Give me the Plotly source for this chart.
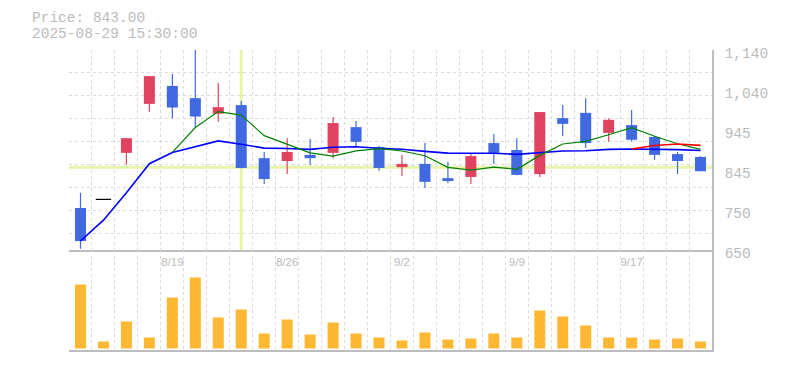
import plotly.graph_objects as go

# ---------------- data ----------------
dates = ["8/13", "8/14", "8/15", "8/18", "8/19", "8/20", "8/21", "8/22", "8/25", "8/26",
         "8/27", "8/28", "8/29", "9/1", "9/2", "9/3", "9/4", "9/5", "9/8", "9/9",
         "9/10", "9/11", "9/12", "9/16", "9/17", "9/18", "9/19", "9/22"]
open_ = [753, 774, 888, 1008, 1052, 1022, 984, 1005, 875, 868, 883, 888, 951, 902,
         853, 861, 826, 829, 912, 895, 836, 973, 986, 937, 956, 927, 885, 878]
high = [790, 774, 924, 1076, 1081, 1140, 1059, 1015, 890, 924, 922, 976, 966, 905,
        883, 912, 866, 885, 934, 924, 988, 1005, 1022, 973, 993, 929, 890, 880]
low = [653, 774, 859, 989, 972, 951, 964, 850, 812, 836, 858, 875, 903, 844,
       831, 802, 814, 812, 861, 833, 829, 929, 900, 915, 915, 871, 836, 843]
close = [672, 774, 924, 1076, 999, 977, 1000, 851, 824, 890, 875, 961, 915, 851,
         861, 817, 819, 880, 888, 834, 988, 959, 912, 969, 920, 883, 868, 843]
volume = [64, 7, 27, 11, 51, 71, 31, 39, 15, 29, 14, 26, 15, 11,
          8, 16, 9, 10, 15, 11, 38, 32, 23, 11, 11, 9, 10, 7]  # thousand shares
ma_long = [672, 723, 790, 861.5, 889, 903.7, 917.4, 909.1, 899.7, 898.7, 896.5, 901.9, 902.9, 899.2,
           896.7, 891.7, 887.4, 887.0, 887.1, 884.4, 889.3, 892.5, 893.3, 896.5, 897.4, 896.9, 895.8, 893.9]
ma5 = [None, None, None, None, 889, 950, 989, 980.6, 930.2, 908.4, 888, 880.2, 893, 898.4,
       892.6, 881, 852.6, 845.6, 853, 847.6, 881.8, 909.8, 916.2, 932.4, 949.6, 928.6, 910.4, 896.6]
ma25 = [None] * 24 + [897.4, 905.9, 909.6, 906.4]

label_idx = [4, 9, 14, 19, 24]
y_tick_vals = [650, 748, 846, 944, 1042, 1140]
y_tick_text = ["650", "750", "845", "945", "1,040", "1,140"]
last_price_text = "Price: 843.00"
last_time_text = "2025-08-29 15:30:00"
cross_idx = 7
cross_price = 853

# ---------------- styles ----------------
UP = "#E0435F"
DOWN = "#4169E1"
FLAT = "#000000"
VOL = "#FFB833"
GRID = "#DADADA"
AXIS = "#BDBDBD"
TXT = "#BBBBBB"
MONO = "Liberation Mono, DejaVu Sans Mono, monospace"
SANS = "Liberation Sans, Arial, sans-serif"
W, H = 785, 370
X_DOM = [69 / W, 712 / W]
P_DOM = [(H - 250) / H, (H - 50) / H]
V_DOM = [(H - 350) / H, (H - 250) / H]

idx = list(range(len(dates)))
up = [i for i in idx if close[i] > open_[i]]
dn = [i for i in idx if close[i] < open_[i]]
fl = [i for i in idx if close[i] == open_[i]]

fig = go.Figure()


def wick_xy(sel):
    xs, ys = [], []
    for i in sel:
        xs += [i, i, None]
        ys += [low[i], high[i], None]
    return xs, ys


for sel, col in ((up, UP), (dn, DOWN)):
    wx, wy = wick_xy(sel)
    fig.add_trace(go.Scatter(x=wx, y=wy, mode="lines", line=dict(color=col, width=1.2),
                             hoverinfo="skip", showlegend=False))

fig.add_trace(go.Bar(x=up, base=[open_[i] for i in up], y=[close[i] - open_[i] for i in up],
                     width=0.48, marker=dict(color=UP, line=dict(width=0)), showlegend=False))
fig.add_trace(go.Bar(x=dn, base=[close[i] for i in dn], y=[open_[i] - close[i] for i in dn],
                     width=0.48, marker=dict(color=DOWN, line=dict(width=0)), showlegend=False))
fig.add_trace(go.Scatter(x=fl, y=[close[i] for i in fl], mode="markers",
                         marker=dict(symbol="line-ew", size=11, line=dict(color=FLAT, width=1.2)),
                         showlegend=False))

fig.add_trace(go.Scatter(x=idx, y=ma_long, mode="lines", line=dict(color="#0000FF", width=1.6),
                         showlegend=False, hoverinfo="skip"))
fig.add_trace(go.Scatter(x=idx, y=ma5, mode="lines", line=dict(color="#008000", width=1.2),
                         showlegend=False, hoverinfo="skip"))
fig.add_trace(go.Scatter(x=idx, y=ma25, mode="lines", line=dict(color="#FF0000", width=1.6),
                         showlegend=False, hoverinfo="skip"))

# grid helper (horizontal square grid)
fig.add_trace(go.Scatter(x=[], y=[], xaxis="x", yaxis="y4", showlegend=False, hoverinfo="skip"))

fig.add_trace(go.Bar(x=idx, y=volume, width=0.48, xaxis="x2", yaxis="y2",
                     marker=dict(color=VOL, line=dict(width=0)), showlegend=False))

# crosshair
fig.add_shape(type="line", xref="x", yref="y domain", x0=cross_idx, x1=cross_idx, y0=0, y1=1,
              line=dict(color="#E6F5A8", width=3), layer="below")
fig.add_shape(type="line", xref="x domain", yref="y", x0=0, x1=1, y0=cross_price, y1=cross_price,
              line=dict(color="#E6F5A8", width=3), layer="below")

fig.add_annotation(text=last_price_text, xref="paper", yref="paper", x=30 / W, y=(H - 18) / H,
                   xanchor="left", yanchor="middle", showarrow=False,
                   font=dict(family=MONO, size=14.5, color=TXT))
fig.add_annotation(text=last_time_text, xref="paper", yref="paper", x=30 / W, y=(H - 34) / H,
                   xanchor="left", yanchor="middle", showarrow=False,
                   font=dict(family=MONO, size=14.5, color=TXT))

fig.update_layout(
    width=W, height=H, autosize=False,
    margin=dict(l=0, r=0, t=0, b=0, pad=0),
    paper_bgcolor="white", plot_bgcolor="white",
    barmode="overlay", showlegend=False, hovermode=False,
    xaxis=dict(domain=X_DOM, anchor="y", range=[-0.5, 27.5], tickmode="array", automargin=False,
               tickvals=label_idx, ticktext=[dates[i] for i in label_idx], ticks="",
               showgrid=False, zeroline=False, showline=True, linecolor=AXIS, linewidth=1.5,
               tickfont=dict(family=SANS, size=11.5, color=TXT), ticklabelstandoff=0,
               minor=dict(tickmode="linear", tick0=-0.5, dtick=1, showgrid=True,
                          gridcolor=GRID, griddash="3px,3px", gridwidth=1, ticks="")),
    yaxis=dict(domain=P_DOM, anchor="x", side="right", range=[650, 1140], tickmode="array",
               automargin=False,
               tickvals=y_tick_vals, ticktext=y_tick_text, ticks="", showgrid=False,
               zeroline=False, showline=True, linecolor=AXIS, linewidth=1.5,
               tickfont=dict(family=MONO, size=14.5, color=TXT),
               ticklabelshift=3, ticklabelstandoff=8),
    yaxis4=dict(overlaying="y", side="right", range=[650, 1140], tickmode="linear", automargin=False,
                tick0=1140, dtick=56.25, showgrid=True, gridcolor=GRID, griddash="3px,3px",
                gridwidth=1, showticklabels=False, ticks="", zeroline=False, showline=False),
    xaxis2=dict(domain=X_DOM, anchor="y2", range=[-0.5, 27.5], tickmode="linear", tick0=-0.5,
                automargin=False,
                dtick=1, showgrid=True, gridcolor=GRID, griddash="3px,3px", gridwidth=1,
                showticklabels=False, ticks="", zeroline=False, showline=True,
                linecolor=AXIS, linewidth=1.5),
    yaxis2=dict(domain=V_DOM, anchor="x2", side="right", range=[-1.5, 98.5], showgrid=False,
                automargin=False,
                showticklabels=False, ticks="", zeroline=False, showline=True,
                linecolor=AXIS, linewidth=1.5),
)

fig.write_html("out.html")
